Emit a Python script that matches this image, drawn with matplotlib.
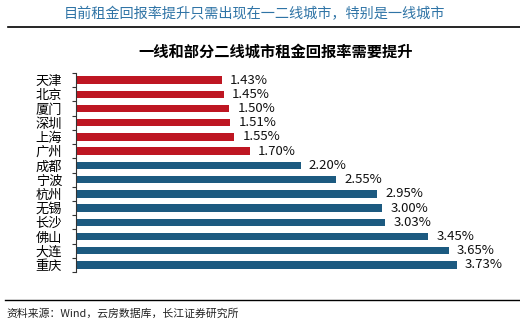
import numpy as np
import matplotlib
matplotlib.use('Agg')
import matplotlib.pyplot as plt
from matplotlib.lines import Line2D

plt.rcParams['font.family'] = ['Noto Sans CJK SC', 'DejaVu Sans']

cities = ['天津', '北京', '厦门', '深圳', '上海', '广州', '成都', '宁波',
          '杭州', '无锡', '长沙', '佛山', '大连', '重庆']
rates = [1.43, 1.45, 1.50, 1.51, 1.55, 1.70, 2.20, 2.55,
         2.95, 3.00, 3.03, 3.45, 3.65, 3.73]
n_first = 6  # first-tier cities drawn in red

red = '#BE1622'
blue = '#1C5A80'
colors = [red if i < n_first else blue for i in range(len(cities))]

fig = plt.figure(figsize=(5.2, 3.24), dpi=100)
W, H = 520, 324

# chart area: spine at x=76, bars from y~73 to ~272
ax = fig.add_axes([76 / W, 1 - 272 / H, (520 - 76) / W, (272 - 73) / H])

y = np.arange(len(cities))
ax.barh(y, rates, height=0.52, color=colors)
ax.set_ylim(len(cities) - 0.5, -0.5)
ax.set_xlim(0, 444 / 102.1)

for yi, v in zip(y, rates):
    ax.text(v + 0.08, yi, f'{v:.2f}%', va='center', ha='left',
            fontsize=9.5, color='#111111')

ax.set_yticks(y)
ax.set_yticklabels(cities, fontsize=9.5)
ax.tick_params(axis='y', which='major', length=0, pad=10)
ax.set_yticks(np.arange(-0.5, len(cities), 1), minor=True)
ax.tick_params(axis='y', which='minor', length=3, width=0.8, color='#333333')
ax.set_xticks([])
for s in ['top', 'right', 'bottom']:
    ax.spines[s].set_visible(False)
ax.spines['left'].set_color('#333333')
ax.spines['left'].set_linewidth(0.8)

# header, title and source
fig.text(254 / W, 1 - 14 / H, '目前租金回报率提升只需出现在一二线城市，特别是一线城市',
         ha='center', va='center', fontsize=10.2, color='#2F74A6')
fig.add_artist(Line2D([8 / W, 1], [1 - 27 / H] * 2, color='black', lw=1.2))
fig.text(276 / W, 1 - 52 / H, '一线和部分二线城市租金回报率需要提升',
         ha='center', va='center', fontsize=11, fontweight='bold', color='black')
fig.add_artist(Line2D([5 / W, 1], [1 - 300 / H] * 2, color='black', lw=1.0))
fig.text(6 / W, 1 - 314 / H, '资料来源：Wind，云房数据库，长江证券研究所',
         ha='left', va='center', fontsize=7.8, color='#222222')

fig.savefig('out.png', dpi=100)
